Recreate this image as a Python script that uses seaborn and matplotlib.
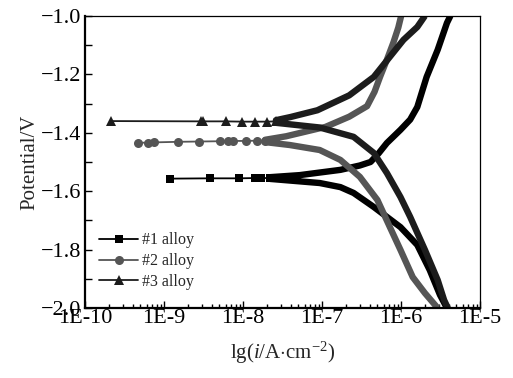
import numpy as np
import pandas as pd
import matplotlib
matplotlib.use("Agg")
import matplotlib.pyplot as plt
import seaborn as sns
from matplotlib.ticker import LogLocator, FuncFormatter, MultipleLocator, NullFormatter

# --- DATA ---
labels = ["#1 alloy", "#2 alloy", "#3 alloy"]
colors = ["#000000", "#555555", "#1c1c1c"]
markers = ["s", "o", "^"]

# sparse points around the corrosion potential
plat1_i = [1.2e-9, 3.8e-9, 8.9e-9, 1.4e-8, 1.7e-8, 2.2e-8]
plat1_E = [-1.557, -1.556, -1.556, -1.555, -1.555, -1.555]
plat2_i = [4.7e-10, 6.3e-10, 7.4e-10, 1.5e-9, 2.8e-9, 5.1e-9, 6.5e-9, 7.4e-9, 1.1e-8, 1.5e-8, 1.9e-8]
plat2_E = [-1.434, -1.434, -1.433, -1.431, -1.430, -1.429, -1.429, -1.428, -1.428, -1.427, -1.427]
plat3_i = [2.1e-10, 2.9e-9, 3.1e-9, 6.0e-9, 9.8e-9, 1.4e-8, 2.0e-8, 2.6e-8]
plat3_E = [-1.360, -1.361, -1.361, -1.361, -1.362, -1.362, -1.362, -1.361]

# anodic branches
an1_i = [2.2e-8, 5.2e-8, 1.7e-7, 3.0e-7, 4.1e-7, 5.2e-7, 6.6e-7, 9.8e-7, 1.3e-6, 1.6e-6, 2.1e-6, 2.9e-6, 3.8e-6, 4.2e-6]
an1_E = [-1.552, -1.545, -1.527, -1.512, -1.500, -1.470, -1.435, -1.390, -1.355, -1.312, -1.209, -1.116, -1.024, -1.0]
an2_i = [1.9e-8, 3.5e-8, 1.1e-7, 2.2e-7, 3.7e-7, 4.6e-7, 5.4e-7, 6.6e-7, 8.0e-7, 9.2e-7, 1.0e-6]
an2_E = [-1.424, -1.412, -1.380, -1.345, -1.309, -1.260, -1.209, -1.150, -1.090, -1.040, -1.0]
an3_i = [2.6e-8, 4.0e-8, 8.7e-8, 2.2e-7, 4.5e-7, 7.2e-7, 1.07e-6, 1.6e-6, 2.0e-6]
an3_E = [-1.357, -1.346, -1.323, -1.272, -1.209, -1.140, -1.082, -1.038, -1.0]

# cathodic branches
ca1_i = [2.2e-8, 9.3e-8, 1.7e-7, 2.5e-7, 4.5e-7, 6.6e-7, 9.8e-7, 1.6e-6, 2.3e-6, 3.1e-6, 3.8e-6]
ca1_E = [-1.558, -1.572, -1.586, -1.606, -1.654, -1.688, -1.723, -1.784, -1.870, -1.955, -2.0]
ca2_i = [1.9e-8, 3.9e-8, 9.3e-8, 1.7e-7, 3.0e-7, 5.0e-7, 7.2e-7, 9.8e-7, 1.4e-6, 2.0e-6, 2.9e-6]
ca2_E = [-1.432, -1.442, -1.459, -1.493, -1.551, -1.630, -1.723, -1.801, -1.894, -1.949, -2.0]
ca3_i = [2.6e-8, 9.3e-8, 2.5e-7, 4.5e-7, 6.6e-7, 9.8e-7, 1.3e-6, 2.0e-6, 2.9e-6, 3.5e-6, 3.9e-6]
ca3_E = [-1.366, -1.382, -1.414, -1.469, -1.538, -1.620, -1.688, -1.801, -1.904, -1.973, -2.0]

plateaus = [(plat1_i, plat1_E), (plat2_i, plat2_E), (plat3_i, plat3_E)]
anodic = [(an1_i, an1_E), (an2_i, an2_E), (an3_i, an3_E)]
cathodic = [(ca1_i, ca1_E), (ca2_i, ca2_E), (ca3_i, ca3_E)]

# --- STYLE ---
sns.set_theme(style="ticks")
plt.rcParams["font.family"] = ["Liberation Serif", "DejaVu Serif"]
plt.rcParams["mathtext.fontset"] = "custom"
plt.rcParams["mathtext.rm"] = "Liberation Serif"
plt.rcParams["mathtext.it"] = "Liberation Serif:italic"

fig = plt.figure(figsize=(5.13, 3.78), dpi=100)
ax = fig.add_axes([0.166, 0.185, 0.770, 0.773])
ax.set_xscale("log")

for k in range(3):
    ci, cE = cathodic[k]
    ai, aE = anodic[k]
    # one sweep: cathodic end -> Ecorr -> anodic end
    branch = pd.DataFrame({"i": ci[::-1] + ai, "E": cE[::-1] + aE})
    sns.lineplot(data=branch, x="i", y="E", sort=False, estimator=None,
                 color=colors[k], linewidth=4.6, solid_capstyle="butt",
                 legend=False, ax=ax)
    pi, pE = plateaus[k]
    sns.lineplot(x=pi, y=pE, sort=False, estimator=None, color=colors[k],
                 linewidth=1.3, marker=markers[k], markersize=6.5 if k else 6,
                 markeredgecolor=colors[k], markeredgewidth=0,
                 label=labels[k], ax=ax)

ax.set_xlim(1e-10, 1e-5)
ax.set_ylim(-2.0, -1.0)

ax.xaxis.set_major_locator(LogLocator(base=10, numticks=10))
ax.xaxis.set_minor_locator(LogLocator(base=10, subs=np.arange(2, 10), numticks=20))
ax.xaxis.set_major_formatter(FuncFormatter(lambda v, p: "1E%d" % int(round(np.log10(v)))))
ax.xaxis.set_minor_formatter(NullFormatter())
ax.yaxis.set_major_locator(MultipleLocator(0.2))
ax.yaxis.set_minor_locator(MultipleLocator(0.1))

ax.tick_params(axis="both", which="both", direction="in", top=False, right=False,
               labelsize=16, width=1.0, colors="black")
ax.tick_params(axis="x", which="major", length=5, pad=1)
ax.tick_params(axis="x", which="minor", length=3)
ax.tick_params(axis="y", which="both", length=5, pad=3)

for side in ["left", "bottom"]:
    ax.spines[side].set_linewidth(1.6)
for side in ["top", "right"]:
    ax.spines[side].set_linewidth(0.9)
for sp in ax.spines.values():
    sp.set_color("black")

ax.set_xlabel(r"lg($\mathit{i}$/A$\cdot$cm$^{-2}$)", fontsize=15, labelpad=8)
ax.set_ylabel("Potential/V", fontsize=15, labelpad=1)

ax.legend(loc="lower left", bbox_to_anchor=(0.02, 0.04), frameon=False,
          fontsize=11.5, handlelength=2.4, handletextpad=0.25, labelspacing=0.3,
          borderaxespad=0)

fig.savefig("out.png", dpi=100)
